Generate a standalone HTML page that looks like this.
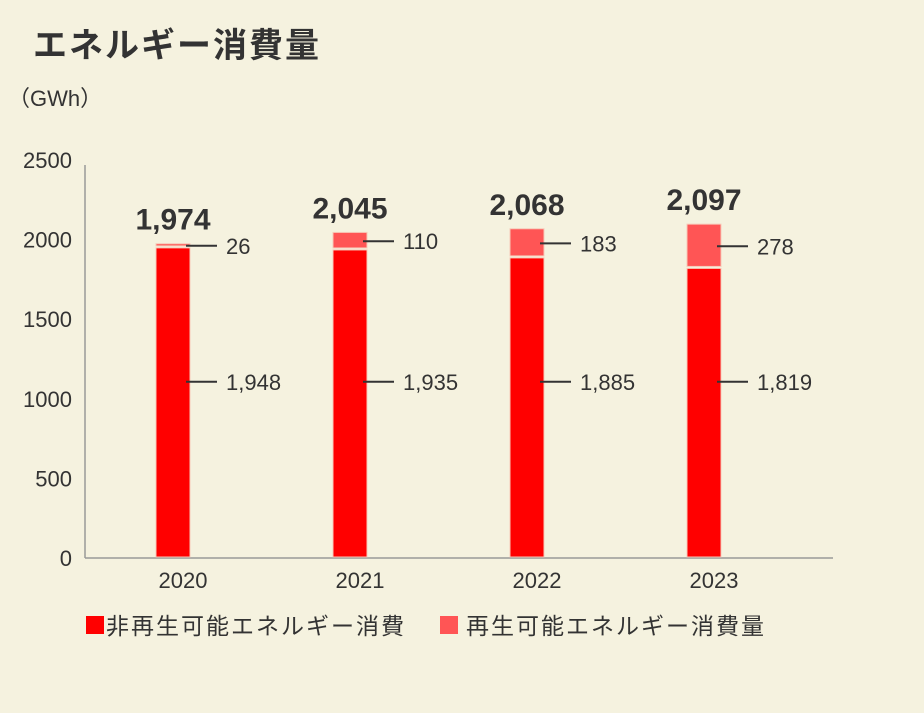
<!DOCTYPE html>
<html><head><meta charset="utf-8"><style>
body{margin:0;background:#f5f2df;font-family:"Liberation Sans","Noto Sans CJK JP",sans-serif;}
svg text{font-family:"Liberation Sans","Noto Sans CJK JP",sans-serif;}
</style></head><body>
<svg width="924" height="708">
<rect x="0" y="0" width="924" height="708" fill="#f5f2df"/>
<text x="33" y="57" font-size="34" font-weight="bold" fill="#333" letter-spacing="2">エネルギー消費量</text>
<text x="8" y="106" font-size="22" fill="#333">（GWh）</text>
<g id="axes"></g>
<g id="bars"></g>
<g>
<rect x="86" y="616" width="18" height="18" fill="#ff0000"/>
<text x="106" y="634" font-size="23" letter-spacing="2" fill="#333">非再生可能エネルギー消費</text>
<rect x="440" y="616" width="18" height="18" fill="#ff5555"/>
<text x="466" y="634" font-size="23" letter-spacing="2" fill="#333">再生可能エネルギー消費量</text>
</g>
</svg>
<script>
const years=["2020","2021","2022","2023"];
const nonRenewable=[1948,1935,1885,1819];
const renewable=[26,110,183,278];
const totals=[1974,2045,2068,2097];
const yTicks=[0,500,1000,1500,2000,2500];
const NS="http://www.w3.org/2000/svg";
const y0=558,pxPer=(558-160)/2500;
const yScale=v=>y0-v*pxPer;
const xScale=i=>173+i*177;
function mk(tag,attrs,parent,text){const e=document.createElementNS(NS,tag);for(const k in attrs)e.setAttribute(k,attrs[k]);if(text!==undefined)e.textContent=text;parent.appendChild(e);return e;}
const ax=document.getElementById('axes'),bg=document.getElementById('bars');
let l=mk('line',{x1:85,y1:165,x2:85,y2:558,stroke:'#999','stroke-width':1.5},ax);


l=mk('line',{x1:85,y1:558,x2:833,y2:558,stroke:'#999','stroke-width':1.5},ax);


yTicks.forEach(t=>{const e=mk('text',{x:72,y:yScale(t)+8,'font-size':22,fill:'#333','text-anchor':'end'},ax,String(t));

});
const fmt=v=>v.toLocaleString('en-US');
years.forEach((yr,i)=>{const cx=xScale(i),w=34,x=cx-w/2;
const yn=yScale(nonRenewable[i]),yt=yScale(nonRenewable[i]+renewable[i]);
let r=mk('rect',{x:x,y:yn,width:w,height:y0-1-yn,fill:'#ff0000',stroke:'#f7c9b8','stroke-width':1},bg);


r=mk('rect',{x:x,y:yt,width:w,height:Math.max(yn-yt-2,1),fill:'#ff5555',stroke:'#f7c9b8','stroke-width':1},bg);


const yNonLbl=yScale(1000)-17;
let ln=mk('line',{x1:cx+13,y1:yNonLbl,x2:cx+44,y2:yNonLbl,stroke:'#333','stroke-width':2},bg);


let t=mk('text',{x:cx+53,y:yNonLbl+8,'font-size':22,fill:'#333'},bg,fmt(nonRenewable[i]));


const yr2=(yt+yn)/2;
ln=mk('line',{x1:cx+13,y1:yr2,x2:cx+44,y2:yr2,stroke:'#333','stroke-width':2},bg);


t=mk('text',{x:cx+53,y:yr2+8,'font-size':22,fill:'#333'},bg,fmt(renewable[i]));


t=mk('text',{x:cx,y:yt-14,'font-size':30,'font-weight':'bold',fill:'#333','text-anchor':'middle'},bg,fmt(totals[i]));


t=mk('text',{x:cx+10,y:588,'font-size':22,fill:'#333','text-anchor':'middle'},bg,yr);


});
</script>
</body></html>
